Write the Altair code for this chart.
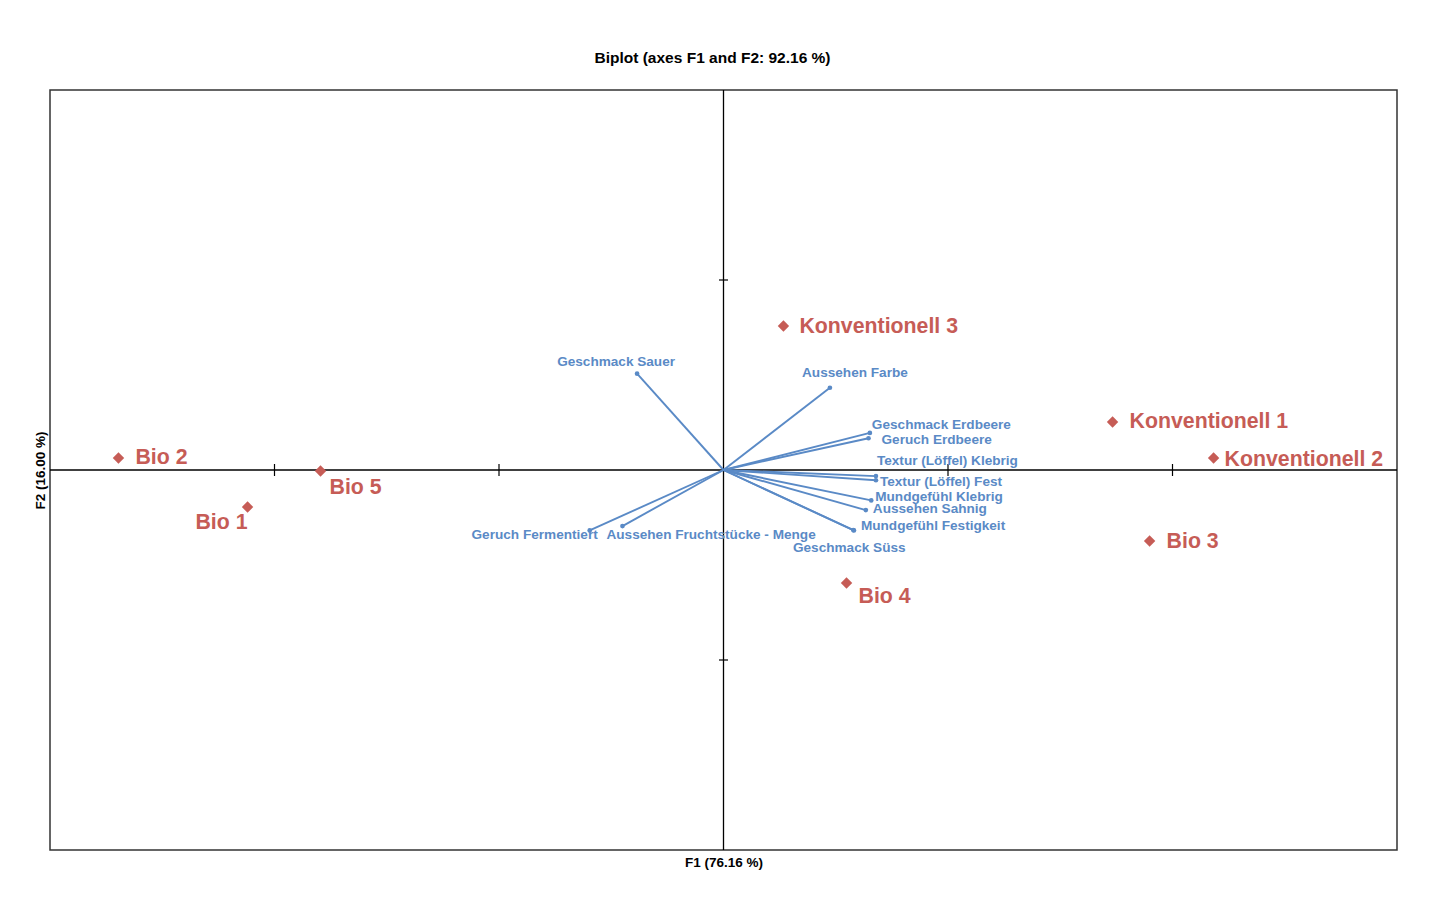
import altair as alt
import pandas as pd

# ---- observations (F1, F2 scores) ----
obs_names = ["Bio 1", "Bio 2", "Bio 3", "Bio 4", "Bio 5",
             "Konventionell 1", "Konventionell 2", "Konventionell 3"]
obs_f1 = [-2.12, -2.695, 1.898, 0.548, -1.795, 1.733, 2.183, 0.267]
obs_f2 = [-0.195, 0.063, -0.374, -0.595, -0.005, 0.253, 0.063, 0.758]

# ---- variables (loadings) ----
var_names = ["Geschmack Sauer", "Aussehen Farbe", "Geschmack Erdbeere", "Geruch Erdbeere",
             "Textur (Löffel) Klebrig", "Textur (Löffel) Fest", "Mundgefühl Klebrig",
             "Aussehen Sahnig", "Mundgefühl Festigkeit", "Geschmack Süss",
             "Geruch Fermentiert", "Aussehen Fruchtstücke - Menge"]
var_f1 = [-0.385, 0.474, 0.652, 0.646, 0.679, 0.679, 0.658, 0.634, 0.581, 0.578, -0.596, -0.450]
var_f2 = [0.507, 0.433, 0.195, 0.167, -0.032, -0.054, -0.160, -0.211, -0.318, -0.316, -0.318, -0.295]

# axis tick values
x_tick_values = [-2, -1, 1, 2]
y_tick_values = [-1, 1]

# ---- label placement (pixel nudges / alignment; styling only) ----
obs_label_place = {
    "Bio 1": ("right", 0, 16), "Bio 2": ("left", 17, 0), "Bio 3": ("left", 17, 1),
    "Bio 4": ("left", 12, 14), "Bio 5": ("left", 9, 17),
    "Konventionell 1": ("left", 17, 0), "Konventionell 2": ("left", 11, 2),
    "Konventionell 3": ("left", 16, 1),
}
var_label_place = {
    "Geschmack Sauer": ("center", -21, -12), "Aussehen Farbe": ("center", 25, -15),
    "Geschmack Erdbeere": ("left", 2, -8), "Geruch Erdbeere": ("left", 13, 2),
    "Textur (Löffel) Klebrig": ("left", 1, -15), "Textur (Löffel) Fest": ("left", 4, 2),
    "Mundgefühl Klebrig": ("left", 4, -3), "Aussehen Sahnig": ("left", 7, -1),
    "Mundgefühl Festigkeit": ("left", 7, -4), "Geschmack Süss": ("center", -4, 18),
    "Geruch Fermentiert": ("right", 8, 5), "Aussehen Fruchtstücke - Menge": ("left", -16, 9),
}

RED = "#C65C56"
BLUE = "#5A8AC6"
FONT = "Liberation Sans"

W, H = 1347, 760
XDOM, YDOM = [-3, 3], [-2, 2]
PX_X = W / (XDOM[1] - XDOM[0])   # pixels per unit on F1
PX_Y = H / (YDOM[1] - YDOM[0])   # pixels per unit on F2

obs = pd.DataFrame({"name": obs_names, "f1": obs_f1, "f2": obs_f2})
obs["align"] = [obs_label_place[n][0] for n in obs_names]
obs["ox"] = [obs_label_place[n][1] for n in obs_names]
obs["oy"] = [obs_label_place[n][2] for n in obs_names]

var = pd.DataFrame({"name": var_names, "f1": var_f1, "f2": var_f2})
var["zero"] = 0.0
var["align"] = [var_label_place[n][0] for n in var_names]
var["ox"] = [var_label_place[n][1] for n in var_names]
var["oy"] = [var_label_place[n][2] for n in var_names]

xscale = alt.Scale(domain=XDOM, nice=False, zero=False)
yscale = alt.Scale(domain=YDOM, nice=False, zero=False)

X = alt.X("f1:Q", scale=xscale,
          axis=alt.Axis(title="F1 (76.16 %)", labels=False, ticks=False, domain=False,
                        grid=False, titlePadding=5, titleFont=FONT, titleFontSize=13.5,
                        titleFontWeight="bold", titleColor="black"))
Y = alt.Y("f2:Q", scale=yscale,
          axis=alt.Axis(title="F2 (16.00 %)", labels=False, ticks=False, domain=False,
                        grid=False, titlePadding=3, titleFont=FONT, titleFontSize=13.5,
                        titleFontWeight="bold", titleColor="black"))

# axis lines through origin
hline = alt.Chart(pd.DataFrame({"v": [0.0]})).mark_rule(color="black", strokeWidth=1.3).encode(
    y=alt.Y("v:Q", scale=yscale))
vline = alt.Chart(pd.DataFrame({"v": [0.0]})).mark_rule(color="black", strokeWidth=1.3).encode(
    x=alt.X("v:Q", scale=xscale))

xt = pd.DataFrame({"t": x_tick_values})
xticks = alt.Chart(xt).transform_calculate(a=f"-{6 / PX_Y}", b=f"{6 / PX_Y}").mark_rule(
    color="black", strokeWidth=1.2).encode(
    x=alt.X("t:Q", scale=xscale), y=alt.Y("a:Q", scale=yscale), y2="b:Q")
yt = pd.DataFrame({"t": y_tick_values})
yticks = alt.Chart(yt).transform_calculate(a=f"-{4.5 / PX_X}", b=f"{4.5 / PX_X}").mark_rule(
    color="black", strokeWidth=1.2).encode(
    y=alt.Y("t:Q", scale=yscale), x=alt.X("a:Q", scale=xscale), x2="b:Q")

base_var = alt.Chart(var)
vectors = base_var.mark_rule(color=BLUE, strokeWidth=1.9).encode(
    x=alt.X("zero:Q", scale=xscale), y=alt.Y("zero:Q", scale=yscale), x2="f1:Q", y2="f2:Q")
var_pts = base_var.mark_point(shape="circle", filled=True, size=22, color=BLUE, opacity=1).encode(
    x=X, y=Y)


def labels(df, align, color, size):
    return alt.Chart(df).transform_filter(alt.datum.align == align).transform_calculate(
        lx=f"datum.f1 + datum.ox / {PX_X}", ly=f"datum.f2 - datum.oy / {PX_Y}"
    ).mark_text(
        align=align, baseline="middle", font=FONT, fontWeight="bold", fontSize=size, color=color
    ).encode(
        x=alt.X("lx:Q", scale=xscale), y=alt.Y("ly:Q", scale=yscale), text="name:N")


var_labels = [labels(var, a, BLUE, 13.6) for a in ["left", "center", "right"]]

obs_pts = alt.Chart(obs).mark_point(shape="diamond", filled=True, size=130, color=RED,
                                    opacity=1).encode(x=X, y=Y)
obs_labels = [labels(obs, a, RED, 21.3) for a in ["left", "right"]]

chart = alt.layer(
    hline, vline, xticks, yticks, vectors, var_pts, *var_labels, obs_pts, *obs_labels
).properties(
    width=W, height=H,
    title=alt.TitleParams("Biplot (axes F1 and F2: 92.16 %)", font=FONT, fontSize=15.5,
                          fontWeight="bold", color="black", offset=23, dx=-11),
    autosize=alt.AutoSizeParams(type="none"),
    padding={"left": 42, "top": 82, "right": 8, "bottom": 40},
    background="white",
).configure_view(stroke="#333333", strokeWidth=1.5)

chart.save("out.html", embed_options={"renderer": "svg", "actions": False})
